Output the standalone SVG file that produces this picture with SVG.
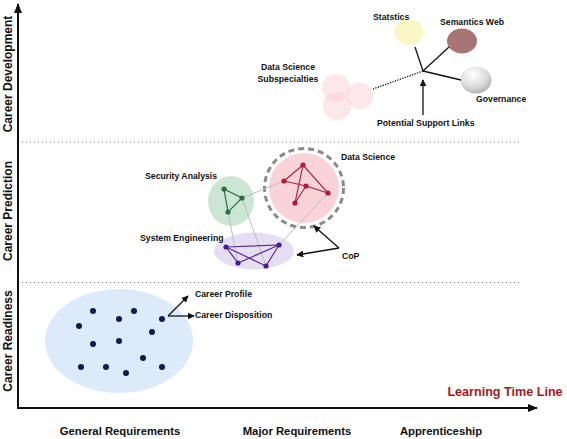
<svg xmlns="http://www.w3.org/2000/svg" width="567" height="439" viewBox="0 0 567 439">
<style>
text{font-family:"Liberation Sans",Arial,sans-serif;font-weight:bold;fill:#111}
.lbl{font-size:8.7px}
.ax{font-size:11.3px}
.yl{font-size:12px}
.edge{fill:none;stroke-width:1.2}
.g{stroke:#2E6B45}
.r{stroke:#A3283F}
.p{stroke:#5B2A9A}
.x{stroke:#BDBDBD;stroke-width:1}
.blk{stroke:#111;stroke-width:1.3;fill:none}
</style>
<defs>
<marker id="ah" viewBox="0 0 10 10" refX="9" refY="5" markerWidth="7" markerHeight="7" orient="auto" markerUnits="userSpaceOnUse"><path d="M0,0 L10,5 L0,10 z" fill="#111"/></marker>
<marker id="axh" viewBox="0 0 10 10" refX="9" refY="5" markerWidth="10" markerHeight="10" orient="auto" markerUnits="userSpaceOnUse"><path d="M0,1 L10,5 L0,9 z" fill="#111"/></marker>
<radialGradient id="gov" cx="0.4" cy="0.3" r="0.8"><stop offset="0" stop-color="#FFFFFF"/><stop offset="0.6" stop-color="#DADADA"/><stop offset="1" stop-color="#9E9E9E"/></radialGradient>
</defs>

<!-- axes -->
<g id="axes">
<line x1="18" y1="408" x2="18" y2="4" stroke="#111" stroke-width="2" marker-end="url(#axh)"/>
<line x1="17" y1="408" x2="537" y2="408" stroke="#111" stroke-width="2" marker-end="url(#axh)"/>
<line x1="22" y1="142" x2="522" y2="142" stroke="#777" stroke-width="1" stroke-dasharray="1 3"/>
<line x1="22" y1="282.5" x2="522" y2="282.5" stroke="#777" stroke-width="1" stroke-dasharray="1 3"/>
<text class="yl" transform="translate(12,74) rotate(-90)" text-anchor="middle">Career Development</text>
<text class="yl" transform="translate(12,211) rotate(-90)" text-anchor="middle">Career Prediction</text>
<text class="yl" transform="translate(12,341) rotate(-90)" text-anchor="middle">Career Readiness</text>
<text class="ax" x="120" y="435" text-anchor="middle">General Requirements</text>
<text class="ax" x="297" y="435" text-anchor="middle">Major Requirements</text>
<text class="ax" x="441" y="435" text-anchor="middle">Apprenticeship</text>
<text x="505" y="396" text-anchor="middle" style="font-size:12.6px;fill:#A01B1F">Learning Time Line</text>
</g>

<!-- Career readiness -->
<g id="readiness">
<ellipse cx="119" cy="341" rx="74" ry="52" fill="#DDEAF9"/>
<g fill="#0E1A4A">
<circle cx="93" cy="311" r="3"/><circle cx="134" cy="311" r="3"/><circle cx="119" cy="319" r="3"/>
<circle cx="162" cy="319" r="3"/><circle cx="79" cy="326" r="3"/><circle cx="152" cy="332" r="3"/>
<circle cx="93" cy="344" r="3"/><circle cx="119" cy="341" r="3"/><circle cx="143" cy="358" r="3"/>
<circle cx="81" cy="367" r="3"/><circle cx="106" cy="367" r="3"/><circle cx="126" cy="373" r="3"/>
<circle cx="162" cy="367" r="3"/>
</g>
</g>
<g id="career-profile"><text class="lbl" x="195" y="297">Career Profile</text></g>
<g id="career-disposition"><text class="lbl" x="195" y="318">Career Disposition</text></g>

<!-- Career prediction clusters -->
<g id="security-analysis">
<ellipse cx="231" cy="201" rx="23" ry="25" fill="#CBE7D3"/>
<text class="lbl" x="145" y="179">Security Analysis</text>
</g>
<g id="data-science">
<circle cx="304" cy="188" r="35" fill="#F9D3D8"/>
<circle cx="304" cy="188" r="39.5" fill="none" stroke="#8A8A8A" stroke-width="3" stroke-dasharray="6 4"/>
<text class="lbl" x="341" y="160">Data Science</text>
</g>
<g id="system-engineering">
<ellipse cx="254" cy="251" rx="40" ry="18.5" fill="#E6DEF2"/>
<text class="lbl" x="140" y="241">System Engineering</text>
</g>
<g id="cop"><text class="lbl" x="342" y="259">CoP</text></g>

<!-- Career development -->
<g id="statistics">
<ellipse cx="409" cy="32" rx="14.5" ry="13" fill="#FAF6C6"/>
<text class="lbl" x="373" y="20">Statstics</text>
</g>
<g id="semantics-web">
<ellipse cx="462" cy="41" rx="15" ry="12.5" fill="#A87474"/>
<text class="lbl" x="440" y="25">Semantics Web</text>
</g>
<g id="governance">
<ellipse cx="476" cy="80" rx="15.5" ry="13.5" fill="url(#gov)"/>
<text class="lbl" x="476" y="102">Governance</text>
</g>
<g id="data-science-subspecialties">
<g fill="#F9CDD1" fill-opacity="0.45">
<circle cx="336" cy="88" r="14"/><circle cx="360" cy="96" r="13.5"/><circle cx="337" cy="106" r="14"/>
</g>
<text class="lbl" x="288" y="70" text-anchor="middle">Data Science</text>
<text class="lbl" x="288" y="82" text-anchor="middle">Subspecialties</text>
</g>
<g id="potential-support-links"><text class="lbl" x="377" y="126">Potential Support Links</text></g>

<!-- connectors -->
<g id="connectors">
<line class="edge x" x1="242" y1="198" x2="284" y2="181"/>
<line class="edge x" x1="228" y1="212" x2="238" y2="263"/>
<line class="edge x" x1="242" y1="198" x2="266" y2="266"/>
<line class="edge x" x1="328" y1="193" x2="279" y2="245"/>
<path class="edge g" d="M224,189 L242,198 L228,212 Z"/>
<path class="edge r" d="M303,165 L284,181 L306,186 L328,193 L303,165 L295,203 M306,186 L295,203"/>
<path class="edge p" d="M226,247 L279,245 L238,263 L226,247 L266,266 L279,245"/>
<g fill="#2E6B45"><circle cx="224" cy="189" r="2.6"/><circle cx="242" cy="198" r="2.6"/><circle cx="228" cy="212" r="2.6"/></g>
<g fill="#B5173A"><circle cx="303" cy="165" r="2.6"/><circle cx="284" cy="181" r="2.6"/><circle cx="306" cy="186" r="2.6"/><circle cx="328" cy="193" r="2.6"/><circle cx="295" cy="203" r="2.6"/></g>
<g fill="#4B1A8C"><circle cx="226" cy="247" r="2.6"/><circle cx="279" cy="245" r="2.6"/><circle cx="238" cy="263" r="2.6"/><circle cx="266" cy="266" r="2.6"/></g>
<line class="blk" x1="339" y1="248" x2="314" y2="226" marker-end="url(#ah)"/>
<line class="blk" x1="339" y1="248" x2="297" y2="255" marker-end="url(#ah)"/>
<line class="blk" x1="168" y1="316" x2="188" y2="296" marker-end="url(#ah)"/>
<line class="blk" x1="168" y1="316" x2="194" y2="316" marker-end="url(#ah)"/>
<line class="blk" x1="423" y1="71" x2="415" y2="47"/>
<line class="blk" x1="423" y1="71" x2="449" y2="47"/>
<line class="blk" x1="423" y1="71" x2="461" y2="80"/>
<line x1="423" y1="71" x2="373" y2="89" stroke="#111" stroke-width="1.3" stroke-dasharray="1.3 1.3"/>
<line class="blk" x1="423" y1="115" x2="423" y2="80" marker-end="url(#ah)"/>
</g>
</svg>
